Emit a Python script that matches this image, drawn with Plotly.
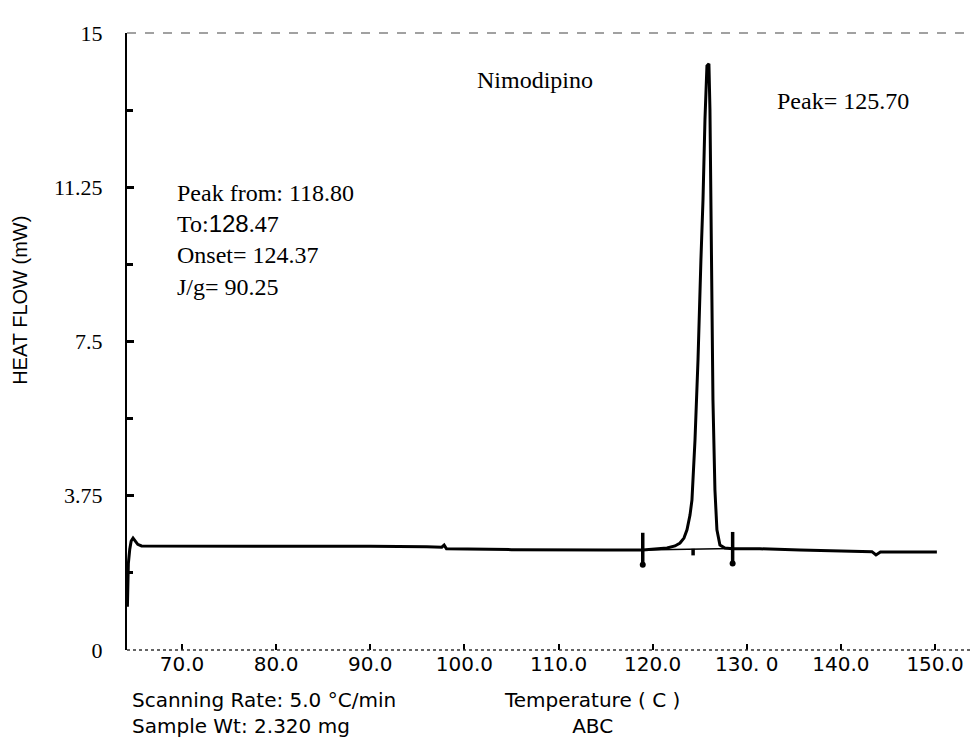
import plotly.graph_objects as go

# ---- data ----
temp = [64.20, 64.25, 64.30, 64.45, 64.60, 64.80, 65.00, 65.30, 65.70, 70.0, 80.0, 90.0,
        96.0, 97.6, 97.85, 98.1, 105.0, 110.0, 115.0, 118.95, 120.78, 121.53, 122.38,
        122.91, 123.33, 123.65, 123.97, 124.18, 124.50, 124.82, 125.13, 125.35, 125.56,
        125.77, 125.98, 126.09, 126.19, 126.30, 126.41, 126.62, 126.83, 127.15, 127.68,
        128.50, 131.4, 135.66, 140.97, 143.3, 143.73, 144.2, 147.0, 150.2]
heat = [1.05, 1.60, 2.10, 2.45, 2.65, 2.72, 2.66, 2.57, 2.53, 2.53, 2.53, 2.52,
        2.51, 2.50, 2.55, 2.46, 2.44, 2.43, 2.43, 2.43, 2.46, 2.48, 2.53,
        2.60, 2.72, 2.92, 3.28, 3.65, 5.10, 7.05, 9.48, 10.94, 12.89,
        14.20, 14.25, 13.13, 10.94, 8.51, 6.08, 3.89, 2.92, 2.55, 2.48,
        2.46, 2.46, 2.43, 2.41, 2.39, 2.31, 2.38, 2.38, 2.38]

# integration limits / onset markers
mark_t = [118.95, 128.50]
mark_lo = [2.07, 2.10]
mark_hi = [2.85, 2.87]
onset_t = 124.30
onset_lo, onset_hi = 2.30, 2.46

x_ticks = [70, 80, 90, 100, 110, 120, 130, 140, 150]
x_labels = ["70.0", "80.0", "90.0", "100.0", "110.0", "120.0", "130. 0", "140.0", "150.0"]
y_ticks = [0, 3.75, 7.5, 11.25, 15]
y_labels = ["0", "3.75", "7.5", "11.25", "15"]
y_minor = [1.875, 5.625, 9.375, 13.125]

fig = go.Figure()

# integration baseline under the peak
fig.add_trace(go.Scatter(x=[mark_t[0], mark_t[1]], y=[2.43, 2.47], mode="lines",
                         line=dict(color="black", width=1.5), hoverinfo="skip"))
# main curve
fig.add_trace(go.Scatter(x=temp, y=heat, mode="lines",
                         line=dict(color="black", width=3), hoverinfo="skip"))
# vertical markers
mx, my = [], []
for t, lo, hi in zip(mark_t, mark_lo, mark_hi):
    mx += [t, t, None]
    my += [lo, hi, None]
mx += [onset_t, onset_t]
my += [onset_lo, onset_hi]
fig.add_trace(go.Scatter(x=mx, y=my, mode="lines",
                         line=dict(color="black", width=3.5), hoverinfo="skip"))
fig.add_trace(go.Scatter(x=mark_t, y=mark_lo, mode="markers",
                         marker=dict(color="black", size=6), hoverinfo="skip"))

serif = "Liberation Serif, Times New Roman, serif"
sans = "DejaVu Sans, Verdana, sans-serif"

fig.update_layout(
    width=972, height=744, autosize=False,
    margin=dict(l=127, r=0, t=33, b=94),
    paper_bgcolor="white", plot_bgcolor="white",
    showlegend=False,
    xaxis=dict(range=[64.157, 153.93], tickvals=x_ticks, ticktext=x_labels,
               ticks="inside", ticklen=6, tickwidth=2, tickcolor="black",
               showline=False, showgrid=False, zeroline=False,
               tickfont=dict(family=sans, size=20, color="black")),
    yaxis=dict(range=[0, 15], tickvals=y_ticks, ticktext=y_labels,
               ticks="inside", ticklen=7, tickwidth=3, tickcolor="black",
               showline=True, linewidth=2, linecolor="black",
               showgrid=False, zeroline=False, ticklabelstandoff=18,
               tickfont=dict(family=serif, size=22, color="black"),
               minor=dict(tickvals=y_minor, ticks="inside", ticklen=6,
                          tickwidth=3, tickcolor="black", showgrid=False)),
    shapes=[
        dict(type="line", xref="paper", yref="paper", x0=0, x1=1, y0=1, y1=1,
             line=dict(color="#444", width=1.2, dash="dash")),
        dict(type="line", xref="paper", yref="paper", x0=0, x1=1, y0=0, y1=0,
             line=dict(color="#333", width=1.5, dash="dot")),
    ],
)

ann = [
    dict(text="Nimodipino", x=0.4828, y=0.9238, xanchor="center", yanchor="middle",
         font=dict(family=serif, size=24, color="black")),
    dict(text="Peak= 125.70", x=0.7669, y=0.8898, xanchor="left", yanchor="middle",
         font=dict(family=serif, size=24, color="black")),
    dict(text=("Peak from: 118.80<br>To:<span style=\"font-family:Liberation Sans\">128</span>.47"
               "<br>Onset= 124.37<br>J/g= 90.25"),
         x=0.0568, y=0.6637, xanchor="left", yanchor="middle", align="left",
         font=dict(family=serif, size=24, color="black")),
    dict(text="HEAT FLOW (mW)", x=-0.127, y=0.567, textangle=-90,
         xanchor="center", yanchor="middle",
         font=dict(family="Liberation Sans, Arial, sans-serif", size=20, color="black")),
    dict(text="Scanning Rate: 5.0 °C/min<br>Sample Wt: 2.320 mg", x=0.0036, y=-0.102,
         xanchor="left", yanchor="middle", align="left",
         font=dict(family=sans, size=20, color="black")),
    dict(text="Temperature ( C )<br>ABC", x=(592 - 127) / 845, y=-0.102,
         xanchor="center", yanchor="middle", align="center",
         font=dict(family=sans, size=20, color="black")),
]
for a in ann:
    a.update(xref="paper", yref="paper", showarrow=False)
fig.update_layout(annotations=ann)

fig.write_html("out.html")
